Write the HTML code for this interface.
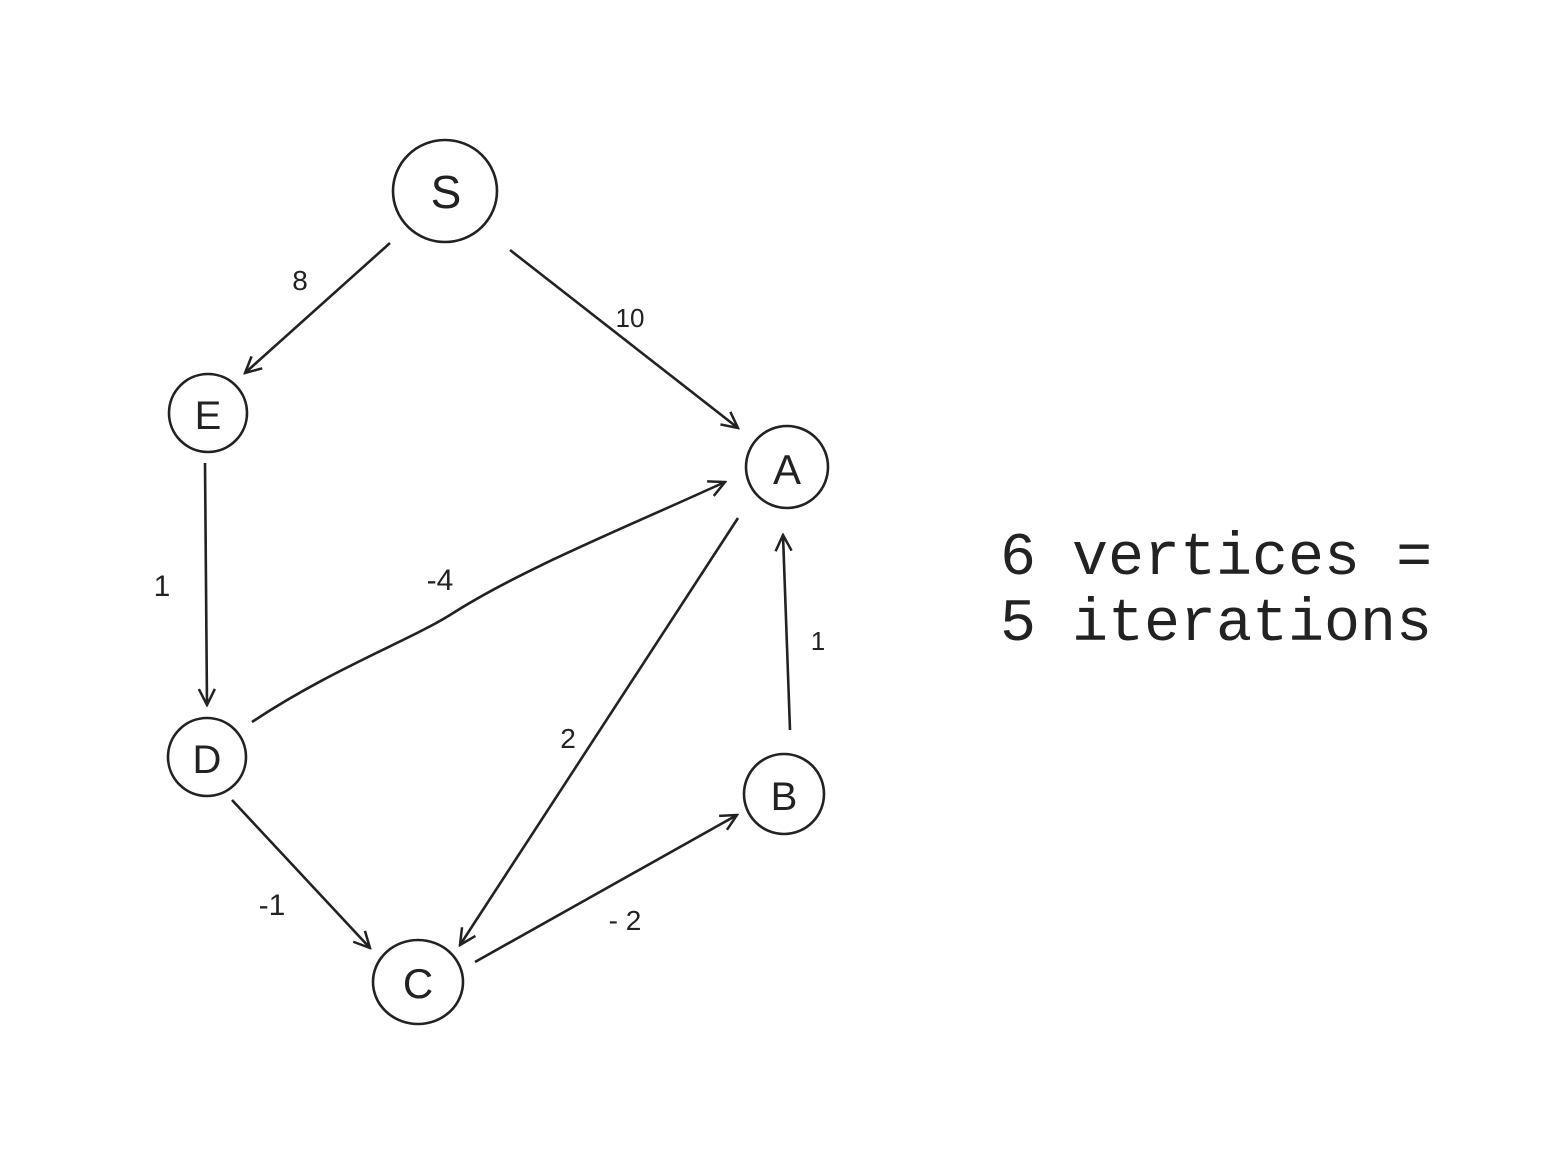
<!DOCTYPE html>
<html><head><meta charset="utf-8"><style>
html,body{margin:0;padding:0;background:#fff;}
svg{display:block;}
</style></head><body>
<svg width="1551" height="1170" viewBox="0 0 1551 1170" xmlns="http://www.w3.org/2000/svg">
<defs>
<marker id="ar" viewBox="0 0 20 20" refX="18" refY="10" markerWidth="20" markerHeight="20" markerUnits="userSpaceOnUse" orient="auto">
<path d="M2,2 L18,10 L2,18" fill="none" stroke="#222" stroke-width="2.5"/>
</marker>
</defs>
<g fill="none" stroke="#222" stroke-width="2.6">
<ellipse cx="445" cy="191" rx="52" ry="51"/>
<circle cx="208" cy="413" r="39"/>
<circle cx="787" cy="467" r="41"/>
<circle cx="207" cy="757" r="39"/>
<circle cx="784" cy="794" r="40"/>
<ellipse cx="418" cy="982" rx="45" ry="42"/>
<line x1="390" y1="243" x2="245" y2="373" marker-end="url(#ar)"/>
<line x1="510" y1="250" x2="738" y2="428" marker-end="url(#ar)"/>
<line x1="205" y1="463" x2="207" y2="705" marker-end="url(#ar)"/>
<path d="M252,722 C330,670 410,640 450,615 C520,570 620,530 725,482" marker-end="url(#ar)"/>
<line x1="738" y1="518" x2="460" y2="945" marker-end="url(#ar)"/>
<line x1="232" y1="800" x2="370" y2="948" marker-end="url(#ar)"/>
<line x1="475" y1="962" x2="737" y2="815" marker-end="url(#ar)"/>
<line x1="790" y1="730" x2="783" y2="535" marker-end="url(#ar)"/>
</g>
<g font-family="Liberation Sans, sans-serif" fill="#222" text-anchor="middle">
<text x="446" y="208" font-size="46">S</text>
<text x="208" y="429" font-size="40">E</text>
<text x="787" y="484" font-size="42">A</text>
<text x="207" y="773" font-size="40">D</text>
<text x="784" y="810" font-size="40">B</text>
<text x="418" y="998" font-size="42">C</text>
<text x="300" y="290" font-size="28">8</text>
<text x="630" y="327" font-size="26">10</text>
<text x="162" y="596" font-size="30">1</text>
<text x="440" y="590" font-size="30">-4</text>
<text x="568" y="748" font-size="28">2</text>
<text x="818" y="650" font-size="26">1</text>
<text x="272" y="915" font-size="30">-1</text>
<text x="625" y="930" font-size="28">- 2</text>
</g>
<g font-family="Liberation Mono, monospace" font-size="60" fill="#222">
<text x="1000" y="574">6 vertices =</text>
<text x="1000" y="640">5 iterations</text>
</g>
</svg>
</body></html>
